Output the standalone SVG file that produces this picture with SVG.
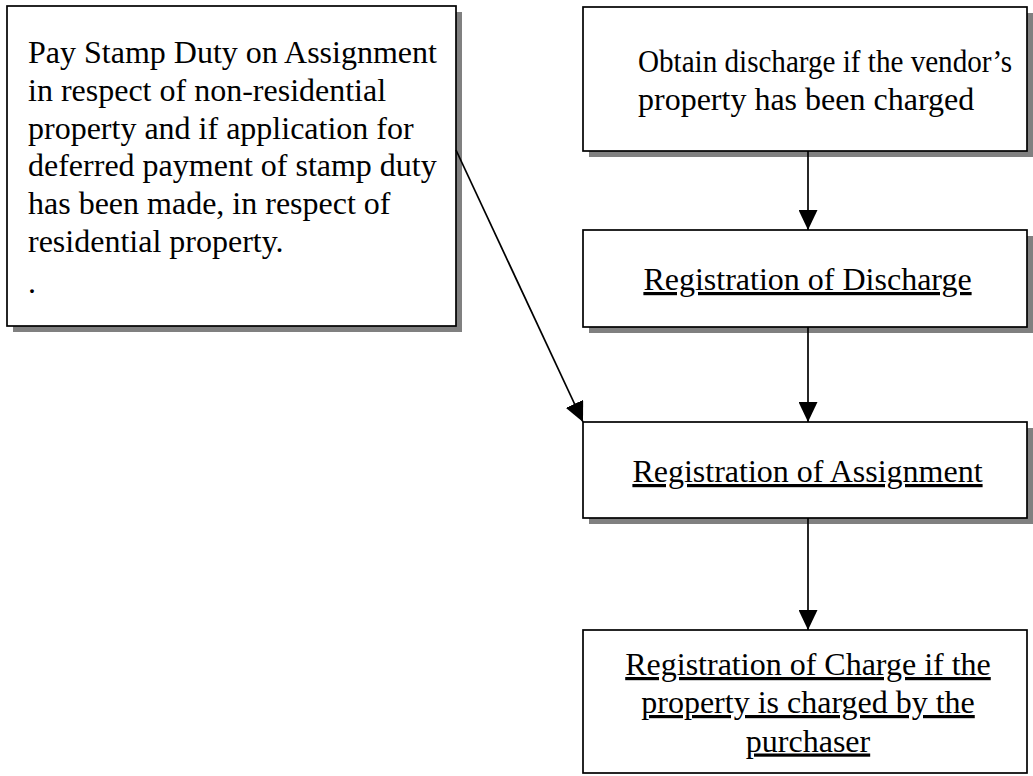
<svg xmlns="http://www.w3.org/2000/svg" width="1033" height="776" viewBox="0 0 1033 776">
  <style>
    .box { fill: #ffffff; stroke: #000000; stroke-width: 1.7; }
    .shadow { fill: #808080; stroke: none; }
    .label { font-family: "Liberation Serif", "Times New Roman", serif; font-size: 32px; fill: #000000; }
    .mid { text-anchor: middle; }
    .ul { text-decoration: underline; }
    .link { stroke: #000000; stroke-width: 1.7; fill: none; marker-end: url(#head); }
  </style>
  <defs>
    <marker id="head" markerUnits="userSpaceOnUse" markerWidth="20" markerHeight="19" refX="20" refY="9.5" orient="auto" viewBox="0 0 20 19">
      <path d="M0,0 L20,9.5 L0,19 Z" fill="#000000"/>
    </marker>
  </defs>
  <rect width="1033" height="776" fill="#ffffff"/>

  <!-- Stamp duty step -->
  <g id="stamp-duty">
    <rect class="shadow" x="13" y="12" width="449" height="320"/>
    <rect class="box" x="7" y="6" width="449" height="320"/>
    <text class="label" x="28" y="63">Pay Stamp Duty on Assignment</text>
    <text class="label" x="28" y="100.8">in respect of non-residential</text>
    <text class="label" x="28" y="138.6">property and if application for</text>
    <text class="label" x="28" y="176.4">deferred payment of stamp duty</text>
    <text class="label" x="28" y="214.2">has been made, in respect of</text>
    <text class="label" x="28" y="252">residential property.</text>
    <text class="label" x="28" y="293">.</text>
  </g>

  <!-- Discharge of vendor's charge -->
  <g id="obtain-discharge">
    <rect class="shadow" x="589" y="13" width="444" height="144"/>
    <rect class="box" x="583" y="7" width="444" height="144"/>
    <!-- first line set slightly condensed so it stays inside the box -->
    <text class="label" transform="translate(638 72) scale(0.91 1)">Obtain discharge if the vendor’s</text>
    <text class="label" x="638" y="110">property has been charged</text>
  </g>

  <g id="registration-discharge">
    <rect class="shadow" x="589" y="236" width="444" height="97"/>
    <rect class="box" x="583" y="230" width="444" height="97"/>
    <text class="label mid ul" x="807.5" y="290">Registration of Discharge</text>
  </g>

  <g id="registration-assignment">
    <rect class="shadow" x="589" y="428" width="444" height="96"/>
    <rect class="box" x="583" y="422" width="444" height="96"/>
    <text class="label mid ul" x="807.5" y="482">Registration of Assignment</text>
  </g>

  <g id="registration-charge">
    <rect class="box" x="583" y="630" width="444" height="143"/>
    <text class="label mid ul" x="808" y="675">Registration of Charge if the</text>
    <text class="label mid ul" x="808" y="713">property is charged by the</text>
    <text class="label mid ul" x="808" y="751.5">purchaser</text>
  </g>

  <!-- Connectors -->
  <g id="connectors">
    <line class="link" x1="808" y1="151" x2="808" y2="230"/>
    <line class="link" x1="808" y1="327" x2="808" y2="422"/>
    <line class="link" x1="808" y1="518" x2="808" y2="630"/>
    <line class="link" x1="456" y1="150" x2="583" y2="422"/>
  </g>
</svg>
